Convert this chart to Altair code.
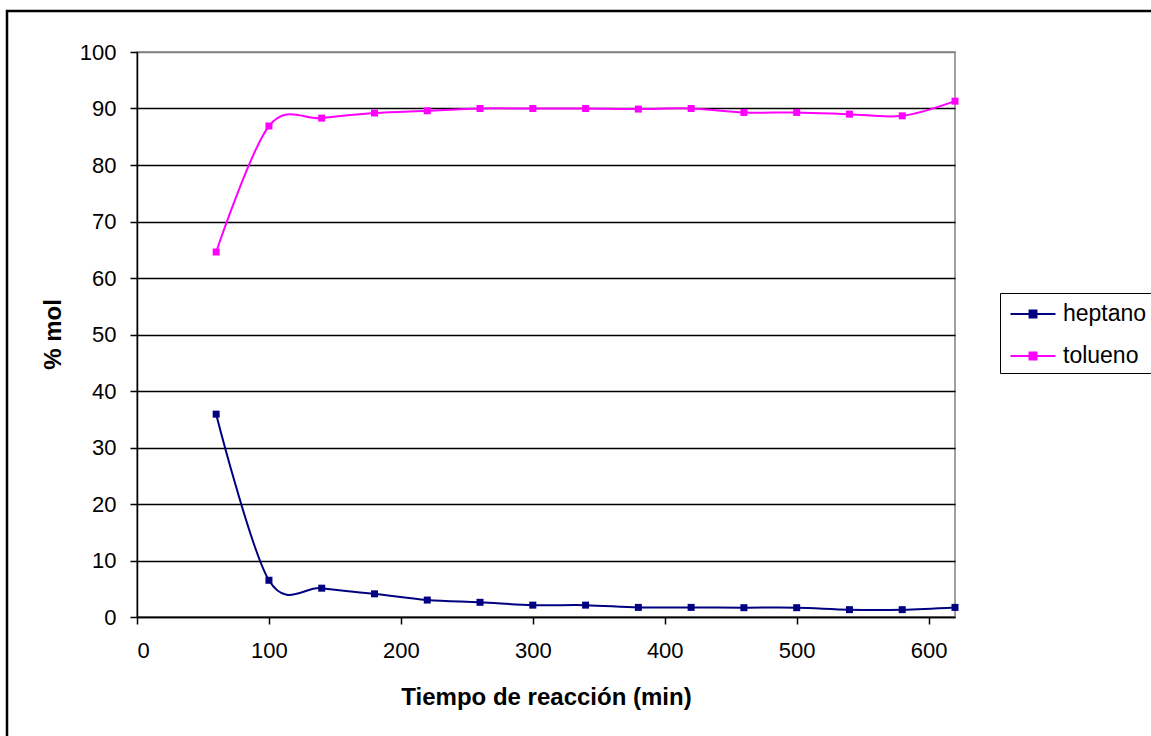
import altair as alt
import pandas as pd

tiempo = [60, 100, 140, 180, 220, 260, 300, 340, 380, 420, 460, 500, 540, 580, 620]
heptano = [35.9, 6.5, 5.1, 4.1, 3.0, 2.6, 2.1, 2.1, 1.7, 1.7, 1.65, 1.65, 1.3, 1.3, 1.7]
tolueno = [64.6, 86.9, 88.3, 89.2, 89.6, 90.0, 90.0, 90.0, 89.9, 90.0, 89.3, 89.3, 89.0, 88.7, 91.3]
series = ["heptano", "tolueno"]
colores = ["#000080", "#FF00FF"]
x_ticks = [0, 100, 200, 300, 400, 500, 600]
y_ticks = [0, 10, 20, 30, 40, 50, 60, 70, 80, 90, 100]

rows = []
for i, t in enumerate(tiempo):
    rows.append({"t": t, "v": heptano[i], "s": "heptano"})
    rows.append({"t": t, "v": tolueno[i], "s": "tolueno"})
df = pd.DataFrame(rows)

FONT = "Liberation Sans"

x_enc = alt.X("t:Q", scale=alt.Scale(domain=[0, 620], nice=False, zero=False),
              axis=alt.Axis(values=x_ticks, grid=False, title="Tiempo de reacción (min)",
                            tickSize=7, labelPadding=16, titleY=87,
                            titleBaseline="alphabetic"))
y_enc = alt.Y("v:Q", scale=alt.Scale(domain=[0, 100], nice=False),
              axis=alt.Axis(values=y_ticks, grid=True, title="% mol",
                            tickSize=7, labelPadding=14,
                            gridColor={"condition": {"test": "datum.value == 100", "value": "#808080"},
                                       "value": "black"},
                            titleX=-77, titleY=282, titleBaseline="alphabetic", titleAngle=270))

scale_c = alt.Scale(domain=series, range=colores)

points = alt.Chart(df).mark_square(size=49, filled=True, opacity=1).encode(
    x=x_enc, y=y_enc,
    fill=alt.Fill("s:N", scale=scale_c, title=None,
                  legend=alt.Legend(orient="none", legendX=863, legendY=241)),
)

lines = alt.Chart(df).mark_line(interpolate="cardinal", strokeWidth=2).encode(
    x=x_enc, y=y_enc,
    stroke=alt.Stroke("s:N", scale=scale_c, title=None,
                      legend=alt.Legend(orient="none", legendX=863, legendY=241)),
)

border = alt.Chart(pd.DataFrame({"a": [0]})).mark_rect(
    fillOpacity=0, stroke="black", strokeWidth=2.5
).encode(x=alt.value(-130), x2=alt.value(1100), y=alt.value(-41), y2=alt.value(720))

chart = alt.layer(border, lines, points).properties(
    width=818, height=565,
    autosize=alt.AutoSizeParams(type="none"),
    padding={"left": 137, "top": 52, "right": 196, "bottom": 119},
    background="white",
).configure_view(
    stroke="#808080", strokeWidth=1.5
).configure_axis(
    domainColor="black", domainWidth=1.5, tickColor="black", tickWidth=1.5,
    gridWidth=1.5, labelFont=FONT, labelFontSize=22, labelColor="black",
    titleFont=FONT, titleFontSize=24, titleFontWeight="bold", titleColor="black",
).configure_legend(
    symbolType="M-1.5,0L1.5,0M-0.23,-0.23L0.23,-0.23L0.23,0.23L-0.23,0.23Z",
    symbolSize=900, symbolStrokeWidth=2, symbolOffset=12,
    labelFont=FONT, labelFontSize=23, labelColor="black", labelOffset=14,
    padding=5, rowPadding=14, strokeColor="black", fillColor="white",
    labelLimit=300,
)

chart.save("out.html", embed_options={"renderer": "svg", "actions": False})
